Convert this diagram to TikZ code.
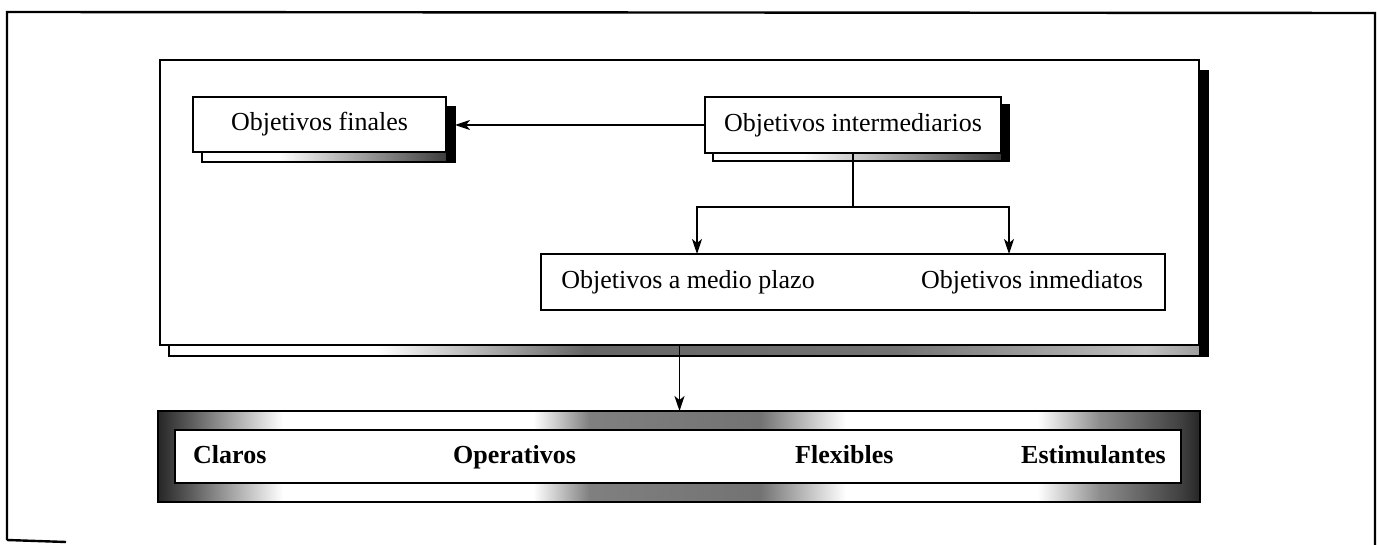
\documentclass[tikz,border=0pt]{standalone}
\usepackage{fontspec}
\setmainfont{Liberation Serif}
\usetikzlibrary{arrows.meta,calc}
\pgfdeclarelayer{l1}\pgfdeclarelayer{l2}\pgfdeclarelayer{l3}
\pgfsetlayers{l1,l2,l3,main}
\pgfdeclarehorizontalshading{stipple}{100bp}{color(0bp)=(black!85); color(25bp)=(black!85); color(26.5bp)=(black!65); color(31bp)=(white); color(43bp)=(white); color(45.7bp)=(black!50); color(53.9bp)=(black!55); color(58bp)=(white); color(67.2bp)=(white); color(70.2bp)=(black!45); color(74.1bp)=(black!75); color(75bp)=(black!85); color(100bp)=(black!85)}
\pgfdeclarehorizontalshading{shadowgrad}{100bp}{color(0bp)=(white); color(25bp)=(white); color(40bp)=(white); color(75bp)=(black!80); color(100bp)=(black!80)}
\pgfdeclarehorizontalshading{panelgrad}{100bp}{color(0bp)=(white); color(25bp)=(white); color(35bp)=(white); color(45bp)=(black!60); color(60bp)=(black!55); color(72bp)=(black!25); color(75bp)=(black!40); color(100bp)=(black!40)}
\newcommand\boxshadow[4]{%
  \shade[shading=#4, draw=black, line width=1.4pt] ($(#1.south west)+(#2,#3)$) rectangle ($(#1.north east)+(#2,#3)$);
  \fill[black] ($(#1.north east)+(0,#3)$) rectangle ($(#1.south east)+(#2,#3)$);}
\begin{document}
\begin{tikzpicture}[x=1pt,y=-1pt,
  box/.style={draw, line width=1.7pt, fill=white, inner sep=0pt, outer sep=0pt, anchor=north west, font=\fontsize{26}{30}\selectfont},
  txt/.style={inner sep=0pt, font=\fontsize{26}{30}\selectfont},
  lbl/.style={inner sep=0pt, anchor=base west, font=\fontsize{26}{30}\selectfont\bfseries},
  arr/.style={line width=1.7pt, -{Stealth[length=15pt,width=10pt,inset=4pt]}},
  conn/.style={line width=1.7pt}]
\useasboundingbox (0,0) rectangle (1377,545);
% outer frame
\draw[line width=2.4pt] (7,540) -- (7,12) -- (1375,13) -- (1375,545);
\draw[line width=2.4pt] (7,540) -- (66,542);
% big panel
\begin{pgfonlayer}{l2}
\node[box, minimum width=1039pt, minimum height=285pt] (panel) at (160,60) {};
\end{pgfonlayer}
\begin{pgfonlayer}{l1}
\boxshadow{panel}{9}{11}{panelgrad}
\end{pgfonlayer}
% boxes inside
\node[box, minimum width=253pt, minimum height=55pt] (finales) at (193,97) {Objetivos finales};
\node[box, minimum width=296pt, minimum height=56pt] (inter) at (705,97) {Objetivos intermediarios};
\node[box, minimum width=624pt, minimum height=56pt] (plazo) at (541,254) {};
\node[txt] (tmedio) at (688,282) {Objetivos a medio plazo};
\node[txt] (tinmed) at (1032,282) {Objetivos inmediatos};
\begin{pgfonlayer}{l3}
\boxshadow{finales}{9}{10}{shadowgrad}
\boxshadow{inter}{8}{8}{shadowgrad}
\end{pgfonlayer}
% connectors
\coordinate (finE) at ($(finales.east)+(9,0)$);
\draw[arr] (inter.west) -- (inter.west -| finE);
\coordinate (split) at ($(inter.south)+(0,54)$);
\coordinate (tL) at (697,254);
\coordinate (tR) at (1009,254);
\draw[conn] (inter.south) -- (split);
\draw[arr] (split) -| (tL);
\draw[arr] (split) -| (tR);
% bottom stippled frame
\node[draw, line width=1.7pt, shading=stipple, inner sep=0pt, outer sep=0pt, anchor=north west, minimum width=1042pt, minimum height=91pt] (quals) at (158,411) {};
\node[box, minimum width=1006pt, minimum height=53pt] (qinner) at (175,430) {};
\draw[arr] (panel.south) -- (panel.south |- quals.north);
\node[lbl] (claros) at (193,463) {Claros};
\node[lbl] (oper) at (453,463) {Operativos};
\node[lbl] (flex) at (795,463) {Flexibles};
\node[lbl] (estim) at (1021,463) {Estimulantes};
\end{tikzpicture}
\end{document}
